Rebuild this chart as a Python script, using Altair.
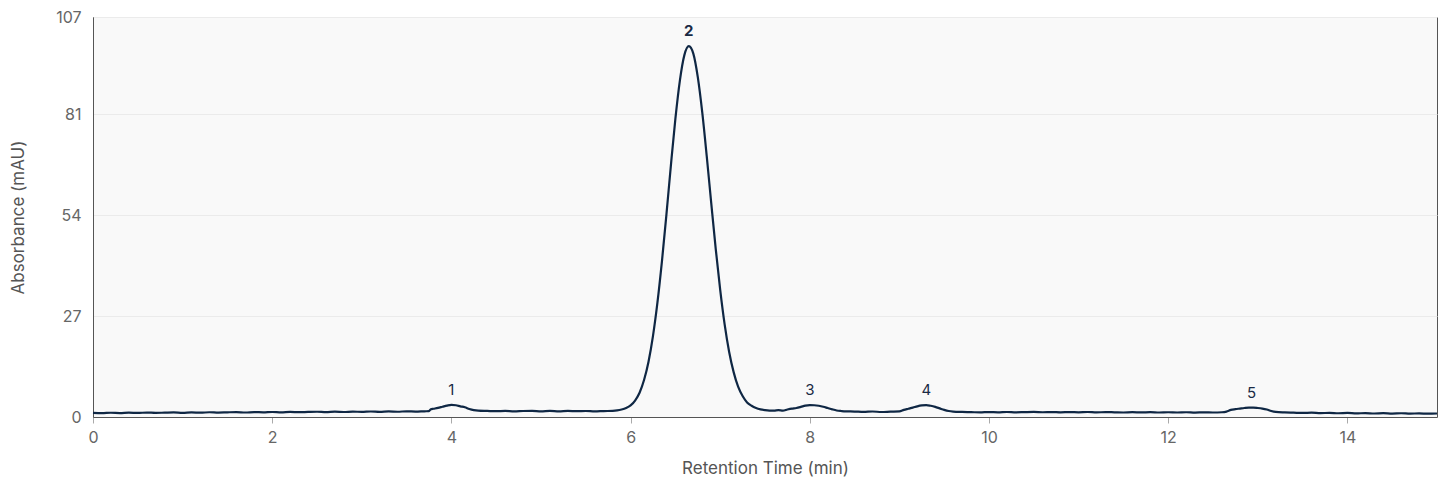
import altair as alt
import pandas as pd

# Chromatogram trace (time in min, absorbance in mAU)
time_min = [
    0.0, 0.1, 0.2, 0.3, 0.4, 0.5, 0.6, 0.7, 0.8, 0.9,
    1.0, 1.1, 1.2, 1.3, 1.4, 1.5, 1.6, 1.7, 1.8, 1.9,
    2.0, 2.1, 2.2, 2.3, 2.4, 2.5, 2.6, 2.7, 2.8, 2.9,
    3.0, 3.1, 3.2, 3.3, 3.4, 3.5, 3.6, 3.7, 3.75, 3.77,
    3.8, 3.85, 3.9, 3.95, 4.0, 4.05, 4.1, 4.15, 4.2, 4.25,
    4.3, 4.4, 4.5, 4.6, 4.7, 4.8, 4.9, 5.0, 5.1, 5.2,
    5.3, 5.4, 5.5, 5.6, 5.7, 5.8, 5.85, 5.9, 5.95, 6.0,
    6.05, 6.1, 6.15, 6.2, 6.25, 6.3, 6.35, 6.4, 6.45, 6.5,
    6.55, 6.6, 6.65, 6.7, 6.75, 6.8, 6.85, 6.9, 6.95, 7.0,
    7.05, 7.1, 7.15, 7.2, 7.25, 7.3, 7.35, 7.4, 7.45, 7.5,
    7.55, 7.6, 7.65, 7.7, 7.75, 7.8, 7.85, 7.9, 7.95, 8.0,
    8.05, 8.1, 8.15, 8.2, 8.25, 8.3, 8.35, 8.4, 8.5, 8.6,
    8.7, 8.8, 8.9, 9.0, 9.05, 9.1, 9.15, 9.2, 9.25, 9.3,
    9.35, 9.4, 9.45, 9.5, 9.55, 9.6, 9.7, 9.8, 9.9, 10.0,
    10.1, 10.2, 10.3, 10.4, 10.5, 10.6, 10.7, 10.8, 10.9, 11.0,
    11.1, 11.2, 11.3, 11.4, 11.5, 11.6, 11.7, 11.8, 11.9, 12.0,
    12.1, 12.2, 12.3, 12.4, 12.5, 12.6, 12.65, 12.7, 12.75, 12.8,
    12.85, 12.9, 12.95, 13.0, 13.05, 13.1, 13.15, 13.2, 13.3, 13.4,
    13.5, 13.6, 13.7, 13.8, 13.9, 14.0, 14.1, 14.2, 14.3, 14.4,
    14.5, 14.6, 14.7, 14.8, 14.9, 15.0,
]
absorbance = [
    1.10, 1.02, 1.14, 1.06, 1.16, 1.08, 1.19, 1.10, 1.16, 1.22,
    1.12, 1.24, 1.15, 1.27, 1.18, 1.25, 1.30, 1.20, 1.32, 1.24,
    1.34, 1.25, 1.37, 1.28, 1.35, 1.40, 1.30, 1.42, 1.34, 1.44,
    1.36, 1.47, 1.38, 1.49, 1.41, 1.52, 1.44, 1.53, 1.56, 2.05,
    2.20, 2.45, 2.75, 3.05, 3.25, 3.15, 2.85, 2.60, 2.15, 1.85,
    1.70, 1.62, 1.55, 1.62, 1.50, 1.60, 1.64, 1.53, 1.62, 1.51,
    1.63, 1.55, 1.60, 1.50, 1.59, 1.64, 1.75, 2.00, 2.40, 3.10,
    4.40, 6.50, 9.90, 14.8, 21.7, 30.7, 41.7, 54.2, 67.4, 79.8,
    90.0, 96.8, 99.2, 97.2, 90.9, 81.4, 69.7, 57.2, 45.0, 34.0,
    24.7, 17.4, 12.0, 8.10, 5.60, 3.90, 3.00, 2.40, 2.05, 1.85,
    1.72, 1.68, 1.82, 1.70, 2.00, 2.25, 2.40, 2.70, 3.05, 3.20,
    3.15, 3.00, 2.75, 2.40, 2.05, 1.75, 1.60, 1.50, 1.46, 1.36,
    1.47, 1.34, 1.43, 1.50, 1.90, 2.20, 2.50, 2.85, 3.10, 3.20,
    3.00, 2.70, 2.30, 1.90, 1.60, 1.45, 1.35, 1.30, 1.23, 1.33,
    1.25, 1.34, 1.24, 1.31, 1.36, 1.27, 1.33, 1.24, 1.32, 1.26,
    1.34, 1.23, 1.31, 1.26, 1.21, 1.29, 1.22, 1.30, 1.21, 1.27,
    1.20, 1.27, 1.18, 1.25, 1.20, 1.27, 1.45, 1.90, 2.10, 2.25,
    2.40, 2.50, 2.50, 2.40, 2.25, 2.00, 1.60, 1.35, 1.22, 1.15,
    1.08, 1.15, 1.03, 1.11, 1.00, 1.08, 0.96, 1.05, 0.94, 1.01,
    0.92, 1.00, 0.90, 0.97, 0.88, 0.93,
]

peak_time = [4.0, 6.65, 8.0, 9.3, 12.93]
peak_height = [3.25, 99.2, 3.2, 3.2, 2.5]
peak_label = ["1", "2", "3", "4", "5"]
peak_bold = [False, True, False, False, False]

x_ticks = [0, 2, 4, 6, 8, 10, 12, 14]
y_ticks = [0, 27, 54, 81, 107]

trace = pd.DataFrame({"t": time_min, "a": absorbance})
peaks = pd.DataFrame({"t": peak_time, "a": peak_height, "label": peak_label, "bold": peak_bold})

x_enc = alt.X(
    "t:Q",
    scale=alt.Scale(domain=[0, 15], nice=False, zero=False),
    axis=alt.Axis(
        values=x_ticks, format="d", title="Retention Time (min)", grid=False,
        tickSize=6, labelPadding=6, titlePadding=15, labelFlush=False,
    ),
)
y_enc = alt.Y(
    "a:Q",
    scale=alt.Scale(domain=[0, 107], nice=False),
    axis=alt.Axis(
        values=y_ticks, format="d", title="Absorbance (mAU)", grid=True,
        ticks=False, labelPadding=12, titlePadding=28, labelFlush=False,
    ),
)

line = alt.Chart(trace).mark_line(
    color="#0f2744", strokeWidth=2.2, interpolate="monotone"
).encode(x=x_enc, y=y_enc)

labels_normal = alt.Chart(peaks[~peaks["bold"]]).mark_text(
    dy=-15, fontSize=15, font="Inter", color="#1a2b45"
).encode(x="t:Q", y="a:Q", text="label:N")

labels_bold = alt.Chart(peaks[peaks["bold"]]).mark_text(
    dy=-15, fontSize=15, font="Inter", fontWeight="bold", color="#1a2b45"
).encode(x="t:Q", y="a:Q", text="label:N")

chart = (
    alt.layer(line, labels_normal, labels_bold)
    .properties(
        width=1344,
        height=400,
        autosize=alt.AutoSizeParams(type="none"),
        padding={"left": 85, "top": 9, "right": 2, "bottom": 60},
        background="white",
    )
    .configure_view(fill="#f9f9f9", stroke="#555555", strokeWidth=1)
    .configure_axis(
        labelFont="Inter", titleFont="Inter", labelFontSize=16, titleFontSize=17,
        labelColor="#666666", titleColor="#555555", titleFontWeight="normal",
        domainColor="#555555", tickColor="#aaaaaa", gridColor="#ebebeb",
    )
)

chart.save("out.html", embed_options={"renderer": "svg", "actions": False})
